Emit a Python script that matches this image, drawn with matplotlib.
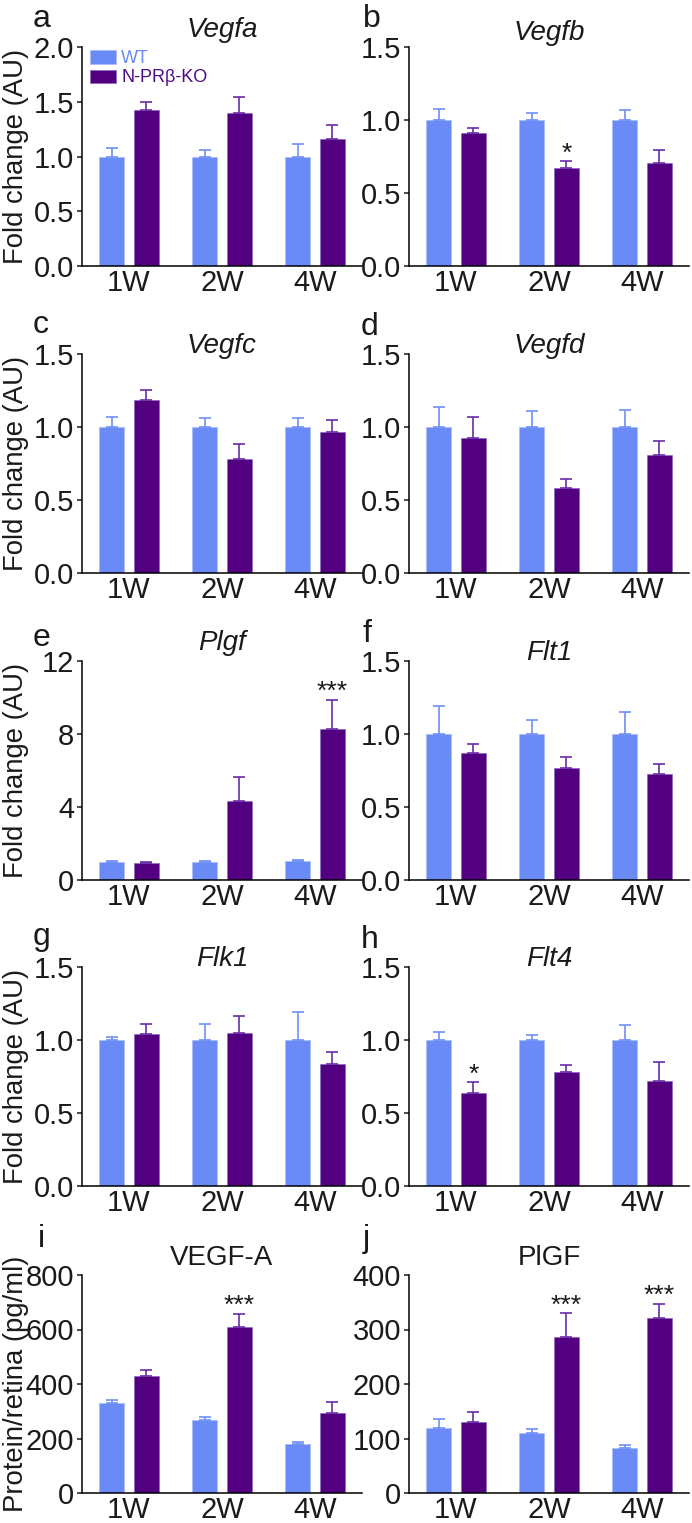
"""Angiogenic factor expression in WT vs N-PRb-KO retina (10-panel bar figure)."""

import matplotlib

matplotlib.use("Agg")
import matplotlib.pyplot as plt  # noqa: E402
import numpy as np  # noqa: E402
from matplotlib.ticker import FormatStrFormatter, MultipleLocator  # noqa: E402

plt.rcParams.update(
    {
        "font.family": ["Liberation Sans", "DejaVu Sans"],
        "axes.spines.top": False,
        "axes.spines.right": False,
        "axes.linewidth": 1.1,
        "text.color": "#1a1a1a",
        "xtick.color": "#1a1a1a",
        "ytick.color": "#1a1a1a",
    }
)

WT_COLOR = "#6a8af5"
KO_COLOR = "#520080"
WT_ERR = "#6d8ff7"
KO_ERR = "#6a2ca6"

groups = ["1W", "2W", "4W"]

# qPCR fold change (AU), mean and upper SEM
vegfa_wt = [1.0, 1.0, 1.0]
vegfa_wt_err = [0.075, 0.06, 0.11]
vegfa_ko = [1.425, 1.395, 1.157]
vegfa_ko_err = [0.075, 0.145, 0.13]

vegfb_wt = [1.0, 1.0, 1.0]
vegfb_wt_err = [0.078, 0.05, 0.066]
vegfb_ko = [0.909, 0.674, 0.703]
vegfb_ko_err = [0.038, 0.043, 0.089]

vegfc_wt = [1.0, 1.0, 1.0]
vegfc_wt_err = [0.066, 0.059, 0.062]
vegfc_ko = [1.183, 0.779, 0.966]
vegfc_ko_err = [0.073, 0.107, 0.08]

vegfd_wt = [1.0, 1.0, 1.0]
vegfd_wt_err = [0.135, 0.107, 0.116]
vegfd_ko = [0.922, 0.584, 0.808]
vegfd_ko_err = [0.149, 0.058, 0.098]

plgf_wt = [1.0, 1.0, 1.03]
plgf_wt_err = [0.03, 0.03, 0.04]
plgf_ko = [0.95, 4.33, 8.26]
plgf_ko_err = [0.02, 1.33, 1.62]

flt1_wt = [1.0, 1.0, 1.0]
flt1_wt_err = [0.192, 0.098, 0.153]
flt1_ko = [0.870, 0.765, 0.728]
flt1_ko_err = [0.064, 0.077, 0.064]

flk1_wt = [1.0, 1.0, 1.0]
flk1_wt_err = [0.023, 0.11, 0.195]
flk1_ko = [1.043, 1.05, 0.839]
flk1_ko_err = [0.064, 0.114, 0.082]

flt4_wt = [1.0, 1.0, 1.0]
flt4_wt_err = [0.053, 0.035, 0.10]
flt4_ko = [0.64, 0.78, 0.716]
flt4_ko_err = [0.071, 0.047, 0.132]

# ELISA protein per retina (pg/ml)
vegfa_prot_wt = [329, 269, 181]
vegfa_prot_wt_err = [11, 10, 6]
vegfa_prot_ko = [431, 610, 292]
vegfa_prot_ko_err = [22, 48, 41]

plgf_prot_wt = [119, 110, 82]
plgf_prot_wt_err = [17, 7, 6]
plgf_prot_ko = [130, 286, 321]
plgf_prot_ko_err = [19, 44, 26]

# (panel letter, title, italic, data, ymax, tick step, decimals, stars on KO bars)
panels = [
    ("a", "Vegfa", True, (vegfa_wt, vegfa_wt_err, vegfa_ko, vegfa_ko_err), 2.0, 0.5, 1, {}),
    ("b", "Vegfb", True, (vegfb_wt, vegfb_wt_err, vegfb_ko, vegfb_ko_err), 1.5, 0.5, 1, {1: "*"}),
    ("c", "Vegfc", True, (vegfc_wt, vegfc_wt_err, vegfc_ko, vegfc_ko_err), 1.5, 0.5, 1, {}),
    ("d", "Vegfd", True, (vegfd_wt, vegfd_wt_err, vegfd_ko, vegfd_ko_err), 1.5, 0.5, 1, {}),
    ("e", "Plgf", True, (plgf_wt, plgf_wt_err, plgf_ko, plgf_ko_err), 12, 4, 0, {2: "***"}),
    ("f", "Flt1", True, (flt1_wt, flt1_wt_err, flt1_ko, flt1_ko_err), 1.5, 0.5, 1, {}),
    ("g", "Flk1", True, (flk1_wt, flk1_wt_err, flk1_ko, flk1_ko_err), 1.5, 0.5, 1, {}),
    ("h", "Flt4", True, (flt4_wt, flt4_wt_err, flt4_ko, flt4_ko_err), 1.5, 0.5, 1, {0: "*"}),
    ("i", "VEGF-A", False,
     (vegfa_prot_wt, vegfa_prot_wt_err, vegfa_prot_ko, vegfa_prot_ko_err), 800, 200, 0, {1: "***"}),
    ("j", "PlGF", False,
     (plgf_prot_wt, plgf_prot_wt_err, plgf_prot_ko, plgf_prot_ko_err), 400, 100, 0, {1: "***", 2: "***"}),
]

# layout in pixels (figure is 692 x 1523)
W, H = 692, 1523
row_top = [47, 354, 661, 967, 1275]
row_bot = [266, 573, 880, 1186, 1493]
col_x = [82, 409]
ax_w = 280
letter_xy = [(33, 27), (363, 27), (33, 333), (361, 335), (33, 646),
             (363, 642), (33, 945), (361, 948), (38, 1247), (363, 1247)]
title_base = [37, 40, 353, 353, 650, 660, 966, 966, 1265, 1265]

fig = plt.figure(figsize=(W / 100, H / 100), dpi=100)
x = np.arange(len(groups))
off, bw = 0.187, 0.265

for k, (letter, title, italic, data, ymax, step, dec, stars) in enumerate(panels):
    r, c = divmod(k, 2)
    ax = fig.add_axes(
        [col_x[c] / W, 1 - row_bot[r] / H, ax_w / W, (row_bot[r] - row_top[r]) / H]
    )
    wt, wt_err, ko, ko_err = data
    b1 = ax.bar(x - off, wt, bw, color=WT_COLOR, edgecolor="#a9bbf9", lw=0.5, label="WT", zorder=2)
    b2 = ax.bar(x + off, ko, bw, color=KO_COLOR, edgecolor="#8a6cc0", lw=0.5, label="N-PRβ-KO", zorder=2)
    ax.errorbar(x - off, wt, yerr=[np.zeros(3), wt_err], fmt="none", ecolor=WT_ERR,
                elinewidth=1.2, capsize=4, capthick=1.2, zorder=3)
    ax.errorbar(x + off, ko, yerr=[np.zeros(3), ko_err], fmt="none", ecolor=KO_ERR,
                elinewidth=1.2, capsize=4, capthick=1.2, zorder=3)
    for gi, s in stars.items():
        ax.annotate(s, (x[gi] + off, ko[gi] + ko_err[gi]), xytext=(0, 0.5),
                    textcoords="offset points", ha="center", va="baseline",
                    fontsize=19, color="#1a1a1a")

    ax.set_xlim(-0.505, 2.505)
    ax.set_ylim(0, ymax)
    ax.yaxis.set_major_locator(MultipleLocator(step))
    ax.yaxis.set_major_formatter(FormatStrFormatter(f"%.{dec}f"))
    ax.set_xticks(x)
    ax.set_xticklabels(groups)
    ax.tick_params(axis="x", length=0, pad=2.5, labelsize=21)
    ax.tick_params(axis="y", length=3.6, width=1.1, pad=2, labelsize=21)
    ax.spines["bottom"].set_zorder(4)

    fig.text(letter_xy[k][0] / W, 1 - letter_xy[k][1] / H, letter,
             fontsize=23, ha="left", va="baseline")
    ax.text(1.0, 1 + (row_top[r] - title_base[k]) / (row_bot[r] - row_top[r]), title,
            transform=ax.get_xaxis_transform(), ha="center", va="baseline",
            fontsize=20, style="italic" if italic else "normal")

    if c == 0:
        ylab = "Protein/retina (pg/ml)" if r == 4 else "Fold change (AU)"
        fig.text(3 / W, 1 - (row_top[r] + row_bot[r]) / 2 / H, ylab, rotation=90,
                 ha="left", va="center", fontsize=19.8)

    if k == 0:
        leg = ax.legend(handles=[b1, b2], loc="upper left", bbox_to_anchor=(0.03, 0.985),
                        frameon=False, fontsize=13, handlelength=1.4, handleheight=0.75,
                        handletextpad=0.3, labelspacing=0.12, borderaxespad=0, borderpad=0,
                        labelcolor=[WT_COLOR, "#4f0a86"])

fig.savefig("out.png", dpi=100)
